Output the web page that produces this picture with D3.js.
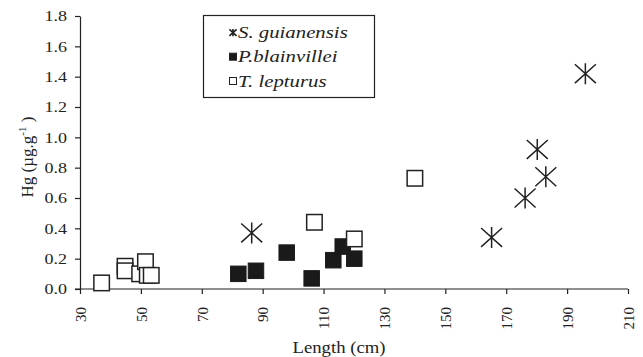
<!DOCTYPE html>
<html><head><meta charset="utf-8">
<script src="https://cdn.jsdelivr.net/npm/d3@7"></script>
<style>body{margin:0;background:#fff}svg{display:block}text{font-family:"Liberation Serif","Times New Roman",serif;fill:#222}</style>
</head><body>
<script>
const xTicks = [30, 50, 70, 90, 110, 130, 150, 170, 190, 210];
const yTicks = [0, 0.2, 0.4, 0.6, 0.8, 1.0, 1.2, 1.4, 1.6, 1.8];
const seriesNames = ["S. guianensis", "P.blainvillei", "T. lepturus"];
const sgLength = [86.4, 165.2, 176.2, 180.2, 183.0, 196.0];
const sgHg     = [0.37, 0.34, 0.60, 0.92, 0.74, 1.42];
const pbLength = [82.0, 87.8, 97.9, 106.1, 113.2, 116.3, 120.1];
const pbHg     = [0.10, 0.12, 0.24, 0.07, 0.19, 0.28, 0.20];
const tlLength = [37.1, 44.8, 44.8, 49.6, 51.5, 52.1, 53.4, 107.0, 120.1, 140.0];
const tlHg     = [0.04, 0.15, 0.12, 0.10, 0.18, 0.09, 0.09, 0.44, 0.33, 0.73];

const W = 643, H = 357;
const svg = d3.select("body").append("svg").attr("width", W).attr("height", H);
const x = d3.scaleLinear().domain([30, 210]).range([80, 628]);
const y = d3.scaleLinear().domain([0, 1.8]).range([289, 16]);

// axes
const gx = svg.append("g").attr("transform", `translate(0,${y(0)})`)
  .call(d3.axisBottom(x).tickValues(xTicks).tickSize(5).tickSizeOuter(0).tickFormat(d3.format("d")));
gx.select(".domain").attr("d", `M${x(30) - 5},0H${x(210)}`);
gx.selectAll("text").attr("transform", "rotate(-90)").attr("x", -18).attr("y", 0)
  .attr("dy", "0.35em").attr("text-anchor", "end").style("font-size", "15px");

const gy = svg.append("g").attr("transform", `translate(${x(30)},0)`)
  .call(d3.axisLeft(y).tickValues(yTicks).tickSize(5).tickSizeOuter(0).tickFormat(d3.format(".1f")));
gy.selectAll("text").attr("x", 0).attr("transform", "translate(-13,0) scale(1.2,1)")
  .style("font-size", "15px");
svg.selectAll(".domain, .tick line").attr("stroke", "#222").attr("stroke-width", 1.2);
svg.selectAll(".tick text").attr("fill", "#222");

// axis titles
svg.append("text").attr("transform", "translate(339,353) scale(1.1,1)")
  .attr("text-anchor", "middle").style("font-size", "17px").text("Length (cm)");
const yt = svg.append("text").attr("transform", "translate(33,157) rotate(-90)")
  .attr("text-anchor", "middle").style("font-size", "17px");
yt.append("tspan").text("Hg (µg.g");
yt.append("tspan").attr("dy", -7).style("font-size", "11px").text("-1");
yt.append("tspan").attr("dy", 7).text(" )");

// markers
const star = s => `M0,${-s}V${s}M${-s},${-s * 0.9}L${s},${s * 0.9}M${s},${-s * 0.9}L${-s},${s * 0.9}`;
const plot = svg.append("g");
const sq = 15.5;
plot.selectAll(".pb").data(d3.range(pbLength.length)).join("rect")
  .attr("x", i => x(pbLength[i]) - sq / 2).attr("y", i => y(pbHg[i]) - sq / 2)
  .attr("width", sq).attr("height", sq).attr("fill", "#1a1a1a").attr("stroke", "#1a1a1a").attr("stroke-width", 1);
plot.selectAll(".tl").data(d3.range(tlLength.length)).join("rect")
  .attr("x", i => x(tlLength[i]) - sq / 2).attr("y", i => y(tlHg[i]) - sq / 2)
  .attr("width", sq).attr("height", sq).attr("fill", "#fff").attr("stroke", "#222").attr("stroke-width", 1.5);
plot.selectAll(".sg").data(d3.range(sgLength.length)).join("path")
  .attr("transform", i => `translate(${x(sgLength[i])},${y(sgHg[i])})`)
  .attr("d", star(10.5)).attr("fill", "none").attr("stroke", "#222").attr("stroke-width", 1.5);

// legend
const lg = svg.append("g");
lg.append("rect").attr("x", 203.5).attr("y", 15.5).attr("width", 171).attr("height", 82)
  .attr("fill", "#fff").attr("stroke", "#222").attr("stroke-width", 1.2);
const rowY = [32.7, 56.7, 81];
seriesNames.forEach((name, i) => {
  const g = lg.append("g").attr("transform", `translate(233,${rowY[i]})`);
  if (i === 0) g.append("path").attr("d", star(3.6)).attr("stroke", "#222").attr("stroke-width", 1.6).attr("fill", "none");
  else g.append("rect").attr("x", -3.5).attr("y", -3.5).attr("width", 7).attr("height", 7)
    .attr("fill", i === 1 ? "#1a1a1a" : "#fff").attr("stroke", "#222").attr("stroke-width", 1);
  g.append("text").attr("transform", "translate(5,5.5) scale(1.3,1)").style("font-size", "16px")
    .style("font-style", "italic").text(name);
});
</script>
</body></html>
